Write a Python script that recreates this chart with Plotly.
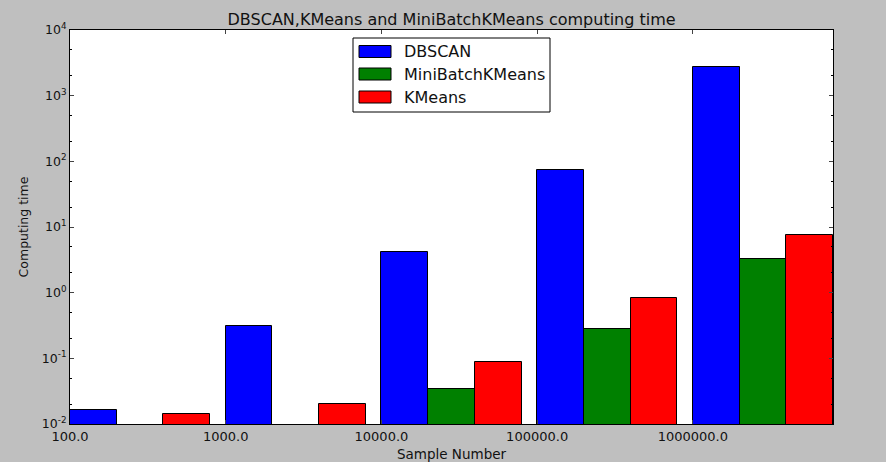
import plotly.graph_objects as go

categories = ["100.0", "1000.0", "10000.0", "100000.0", "1000000.0"]
dbscan = [0.0163, 0.31, 4.1, 74, 2750]
minibatch = [0.005, 0.006, 0.034, 0.28, 3.25]
kmeans = [0.0142, 0.0201, 0.088, 0.83, 7.5]

series = [("DBSCAN", dbscan, "#0000ff"),
          ("MiniBatchKMeans", minibatch, "#008000"),
          ("KMeans", kmeans, "#ff0000")]
width = 0.3
idx = list(range(len(categories)))

fig = go.Figure()
for k, (name, vals, col) in enumerate(series):
    fig.add_trace(go.Bar(
        x=[i + width * k + width / 2 for i in idx], y=vals, width=width,
        name=name, marker=dict(color=col, line=dict(color="black", width=1)),
        showlegend=False,
    ))

# custom legend (matplotlib style: wide patches) in paper coordinates
L, R, T, B = 70, 833, 30, 424
pw, ph = R - L, B - T
def px(x): return (x - L) / pw
def py(y): return (B - y) / ph

shapes = [dict(type="rect", xref="paper", yref="paper",
               x0=px(353), x1=px(550), y0=py(112), y1=py(38),
               fillcolor="white", line=dict(color="black", width=1), layer="above")]
annotations = []
rows = [51.5, 74, 97]
for (name, vals, col), yc in zip(series, rows):
    shapes.append(dict(type="rect", xref="paper", yref="paper",
                       x0=px(359), x1=px(391), y0=py(yc + 6), y1=py(yc - 6),
                       fillcolor=col, line=dict(color="black", width=1), layer="above"))
    annotations.append(dict(text=name, xref="paper", yref="paper",
                            x=px(402), y=py(yc), xanchor="left", yanchor="middle",
                            showarrow=False, font=dict(size=16)))

font = "DejaVu Sans"
fig.update_layout(
    width=886, height=462,
    paper_bgcolor="#bfbfbf", plot_bgcolor="white",
    margin=dict(l=L, r=886 - R, t=T, b=462 - B),
    font=dict(family=font, size=12, color="#111111"),
    title=dict(text="DBSCAN,KMeans and MiniBatchKMeans computing time",
               x=0.5097, xanchor="center", y=0.957, yanchor="middle",
               font=dict(size=16)),
    barmode="overlay", bargap=0,
    shapes=shapes, annotations=annotations,
    xaxis=dict(range=[0, 4.9], tickvals=idx, ticktext=categories,
               ticks="inside", ticklen=4, mirror="ticks", showline=True,
               linecolor="black", linewidth=1, showgrid=False, zeroline=False,
               automargin=False, tickfont=dict(size=13),
               title=dict(text="Sample Number", standoff=6, font=dict(size=13.5))),
    yaxis=dict(type="log", range=[-2, 4],
               tickvals=[0.01, 0.1, 1, 10, 100, 1000, 10000],
               ticktext=["10<sup>-2</sup>", "10<sup>-1</sup>", "10<sup>0</sup>",
                         "10<sup>1</sup>", "10<sup>2</sup>", "10<sup>3</sup>",
                         "10<sup>4</sup>"],
               ticks="inside", ticklen=4, mirror="ticks", showline=True,
               linecolor="black", linewidth=1, showgrid=False, zeroline=False,
               automargin=False,
               minor=dict(ticks="inside", ticklen=2, tickcolor="black", showgrid=False),
               tickfont=dict(size=12.5),
               title=dict(text="Computing time", standoff=10, font=dict(size=12.5))),
)
fig.write_html("out.html")
